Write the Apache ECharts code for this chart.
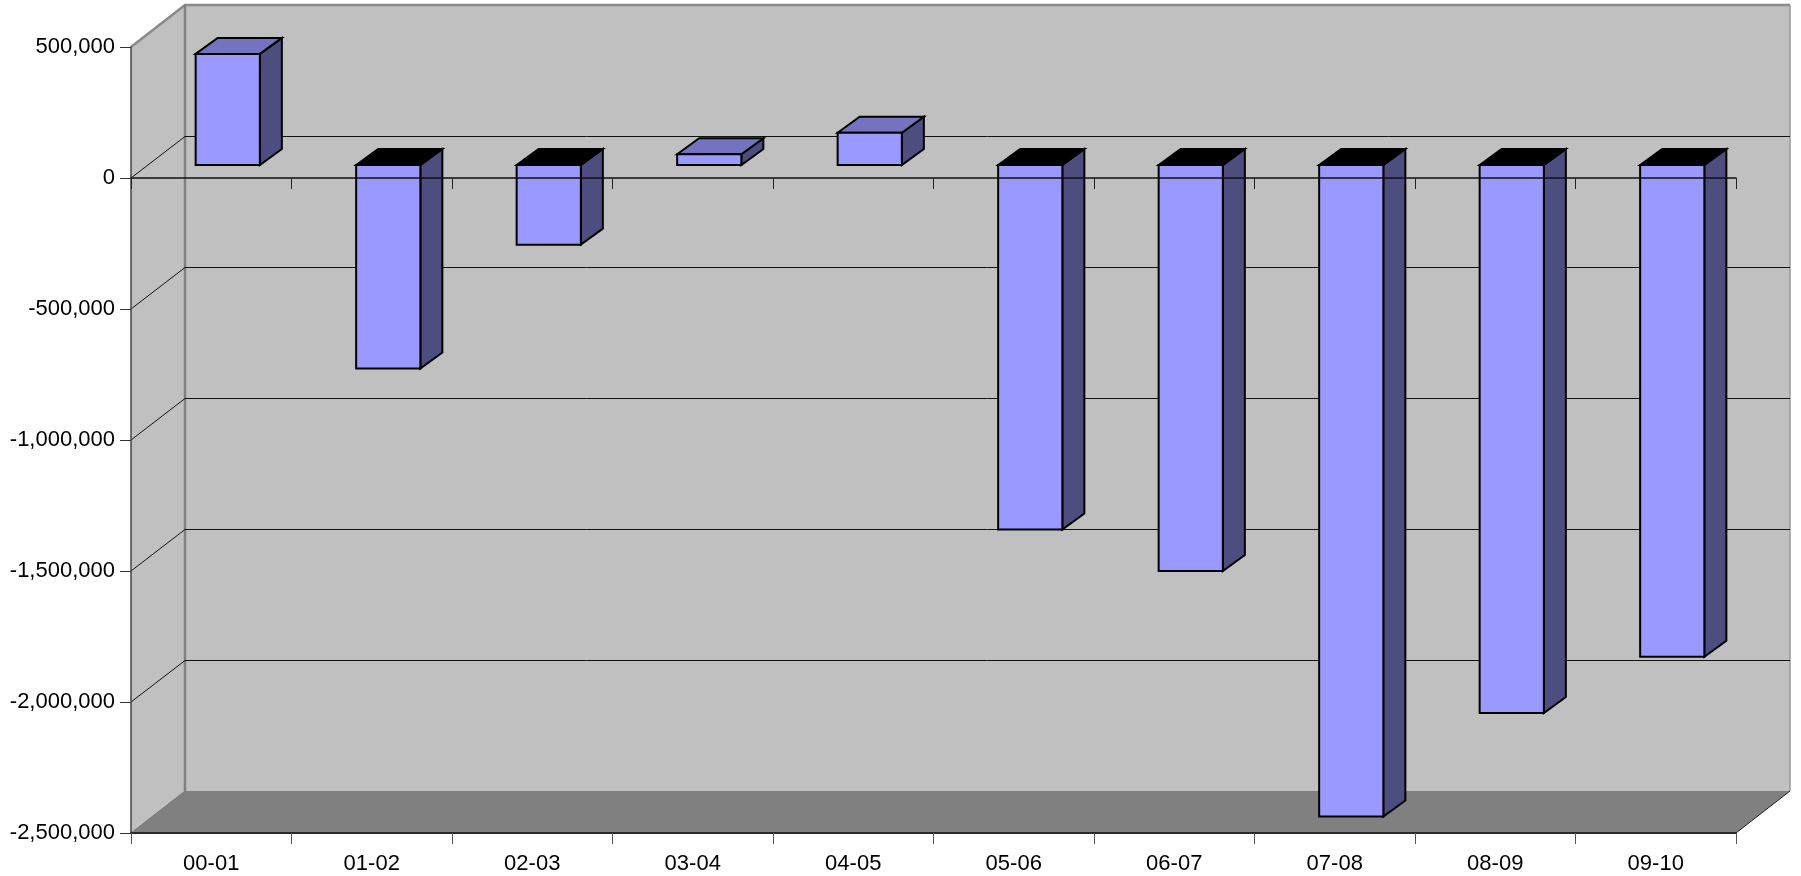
<!DOCTYPE html>
<html>
<head>
<meta charset="utf-8">
<title>Annual balance by year</title>
<style>
  html, body { margin: 0; padding: 0; background: #fff; }
  #chart { width: 1801px; height: 876px; }
</style>
<script src="https://cdn.jsdelivr.net/npm/echarts@6/dist/echarts.min.js"></script>
</head>
<body>
<div id="chart"></div>
<script>
// Yearly figures
const categories = ['00-01', '01-02', '02-03', '03-04', '04-05', '05-06', '06-07', '07-08', '08-09', '09-10'];
const values = [424000, -777000, -304000, 41000, 123000, -1391000, -1550000, -2487000, -2092000, -1877000];

// Value axis
const yMin = -2500000;
const yMax = 500000;
const yStep = 500000;
const wallLines = [0, -500000, -1000000, -1500000, -2000000];

// Pseudo-3D box: how far the back wall and the bars recede
const WALL_DX = 54, WALL_DY = 42;
const LINE_DY = 41.5;
const BAR_SHIFT_X = 16.5, BAR_SHIFT_Y = 13;
const BAR_DX = 22, BAR_DY = 16;
const BAR_WIDTH_RATIO = 0.4;

const FONT = '"Liberation Sans", Arial, sans-serif';
const poly = (points, fill, stroke, lineWidth) => ({
  type: 'polygon',
  shape: { points },
  style: { fill, stroke: stroke || null, lineWidth: lineWidth || 0, lineJoin: 'miter' }
});
const line = (points, stroke, lineWidth) => ({
  type: 'polyline',
  shape: { points },
  style: { fill: null, stroke, lineWidth }
});

// Side wall, back wall and floor of the box
function renderWalls(params, api) {
  const g = params.coordSys;
  const l = g.x, r = g.x + g.width, t = g.y, b = g.y + g.height;
  return {
    type: 'group',
    children: [
      poly([[l, t], [l + WALL_DX, t - WALL_DY], [r + WALL_DX, t - WALL_DY], [r + WALL_DX, b - WALL_DY], [l + WALL_DX, b - WALL_DY], [l, b]], '#c0c0c0'),
      poly([[l, b], [l + WALL_DX, b - WALL_DY], [r + WALL_DX, b - WALL_DY], [r, b]], '#808080'),
      line([[l, t], [l + WALL_DX, t - WALL_DY], [r + WALL_DX, t - WALL_DY]], '#8a8a8a', 2.5),
      line([[l + WALL_DX, t - WALL_DY], [l + WALL_DX, b - WALL_DY]], '#808080', 2.5),
      line([[r + WALL_DX, t - WALL_DY], [r + WALL_DX, b - WALL_DY]], '#999999', 1.5),
      line([[r, b], [r + WALL_DX, b - WALL_DY]], '#222222', 1),
      line([[l, b], [l + WALL_DX, b - WALL_DY]], '#777777', 1)
    ]
  };
}

// One gridline per value, running along the side wall and then the back wall
function renderWallLine(params, api) {
  const g = params.coordSys;
  const y = api.coord([0, api.value(1)])[1];
  return line([[g.x, y], [g.x + WALL_DX, y - LINE_DY], [g.x + g.width + WALL_DX, y - LINE_DY]], '#111111', 1);
}

// One box per year: side and cap first, then the front face
function renderBar(params, api) {
  const idx = api.value(0);
  const val = api.value(1);
  const mid = api.coord([idx, 0])[0] + BAR_SHIFT_X;
  const half = api.size([1, 0])[0] * BAR_WIDTH_RATIO / 2;
  const x0 = mid - half, x1 = mid + half;
  const yZero = api.coord([idx, 0])[1] - BAR_SHIFT_Y;
  const yVal = api.coord([idx, val])[1] - BAR_SHIFT_Y;
  const top = Math.min(yZero, yVal), bottom = Math.max(yZero, yVal);
  const capFill = val >= 0 ? '#7373bf' : '#000000';
  return {
    type: 'group',
    children: [
      poly([[x1, top], [x1 + BAR_DX, top - BAR_DY], [x1 + BAR_DX, bottom - BAR_DY], [x1, bottom]], '#4d4d80', '#000', 2),
      poly([[x0, top], [x0 + BAR_DX, top - BAR_DY], [x1 + BAR_DX, top - BAR_DY], [x1, top]], capFill, '#000', 2),
      poly([[x0, top], [x1, top], [x1, bottom], [x0, bottom]], '#9999ff', '#000', 2)
    ]
  };
}

const chart = echarts.init(document.getElementById('chart'), null, { renderer: 'canvas' });
chart.setOption({
  animation: false,
  backgroundColor: '#ffffff',
  grid: { left: 131, top: 47, width: 1605, height: 786, containLabel: false, show: false },
  xAxis: [
    {
      type: 'category',
      data: categories,
      position: 'bottom',
      z: 10,
      axisLine: { onZero: false, lineStyle: { color: '#2a2a2a', width: 2 } },
      axisTick: { show: true, length: 11, alignWithLabel: false, lineStyle: { color: '#555555', width: 1 } },
      axisLabel: { margin: 20, fontSize: 22, color: '#000000', fontFamily: FONT, interval: 0 },
      splitLine: { show: false }
    },
    {
      type: 'category',
      data: categories,
      position: 'bottom',
      z: 10,
      axisLine: { onZero: true, lineStyle: { color: '#111111', width: 1.5 } },
      axisTick: { show: true, length: 11, alignWithLabel: false, lineStyle: { color: '#222222', width: 1 } },
      axisLabel: { show: false },
      splitLine: { show: false }
    }
  ],
  yAxis: {
    type: 'value',
    min: yMin,
    max: yMax,
    interval: yStep,
    z: 10,
    axisLine: { show: true, onZero: false, lineStyle: { color: '#444444', width: 1.5 } },
    axisTick: { show: true, length: 11, lineStyle: { color: '#333333', width: 1 } },
    axisLabel: {
      margin: 16,
      fontSize: 22,
      color: '#000000',
      fontFamily: FONT,
      formatter: v => v.toLocaleString('en-US')
    },
    splitLine: { show: false }
  },
  series: [
    {
      type: 'custom',
      name: 'walls',
      silent: true,
      z: 1,
      renderItem: renderWalls,
      encode: { x: 0, y: 1 },
      data: [[0, yMin]]
    },
    {
      type: 'custom',
      name: 'wall lines',
      silent: true,
      z: 2,
      renderItem: renderWallLine,
      encode: { x: 0, y: 1 },
      data: wallLines.map(v => [0, v])
    },
    {
      type: 'custom',
      name: 'balance',
      silent: true,
      z: 3,
      renderItem: renderBar,
      encode: { x: 0, y: 1 },
      data: values.map((v, i) => [i, v])
    }
  ]
});
</script>
</body>
</html>
